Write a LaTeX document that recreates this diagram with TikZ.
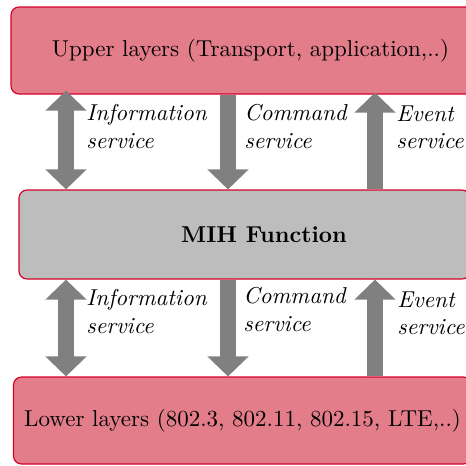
\documentclass[tikz,border=0pt]{standalone}
\usepackage{amsmath, amssymb}
\usepackage{xcolor}
\usepackage{tikz}
\usetikzlibrary{calc, arrows.meta, positioning}

\definecolor{layerred}{RGB}{227,125,138}
\definecolor{borderred}{RGB}{214,0,40}
\definecolor{mihgray}{RGB}{189,189,189}
\definecolor{arrowgray}{RGB}{128,128,128}
\newcommand{\pxu}{0.435pt}

\tikzset{
	layer/.style={draw=borderred, fill=layerred, line width=0.5pt, rounded corners=3.5pt, inner sep=0pt},
	mihbox/.style={draw=borderred, fill=mihgray, line width=0.5pt, rounded corners=3.5pt, inner sep=0pt},
	service/.style={draw=arrowgray, line width=16*\pxu},
	servtip/.tip={Triangle[width=40*\pxu, length=20*\pxu]},
	servlabel/.style={font=\itshape, align=left, inner sep=0pt, anchor=north west}
}

\begin{document}
\begin{tikzpicture}[x=\pxu, y=-\pxu]
			\useasboundingbox (0,0) rectangle (466,465);
			\clip (0,0) rectangle (466,465);
			% boxes
			\node [layer, minimum width=479*\pxu, minimum height=87*\pxu] (upper) at (250.5,50.5) {Upper layers (Transport, application,..)};
			\node [mihbox, minimum width=451*\pxu, minimum height=89*\pxu] (mih) at (244.5,234.5) {};
			\node [font=\bfseries] (mihtext) at (264,235) {MIH Function};
			\node [layer, minimum width=458*\pxu, minimum height=87*\pxu] (lower) at (242.5,420.5) {Lower layers (802.3, 802.11, 802.15, LTE,..)};
			% columns
			\coordinate (info) at (66,0);
			\coordinate (cmd) at (228,0);
			\coordinate (evt) at (375,0);
			% upper services
			\draw [service, servtip-servtip, shorten <=-4*\pxu] (upper.south -| info) -- (mih.north -| info);
			\draw [service, -servtip] (upper.south -| cmd) -- (mih.north -| cmd);
			\draw [service, -servtip, shorten >=-2*\pxu] (mih.north -| evt) -- (upper.south -| evt);
			\node [servlabel] (infoup) at (86,104) {Information\\service};
			\node [servlabel] (cmdup) at (244,104) {Command\\service};
			\node [servlabel] (evtup) at (396,105) {Event\\service};
			% lower services
			\draw [service, servtip-servtip] (mih.south -| info) -- (lower.north -| info);
			\draw [service, -servtip] (mih.south -| cmd) -- (lower.north -| cmd);
			\draw [service, -servtip] (lower.north -| evt) -- (mih.south -| evt);
			\node [servlabel] (infolow) at (86,289) {Information\\service};
			\node [servlabel] (cmdlow) at (243,287) {Command\\service};
			\node [servlabel] (evtlow) at (397,291) {Event\\service};
		\end{tikzpicture}
\end{document}
